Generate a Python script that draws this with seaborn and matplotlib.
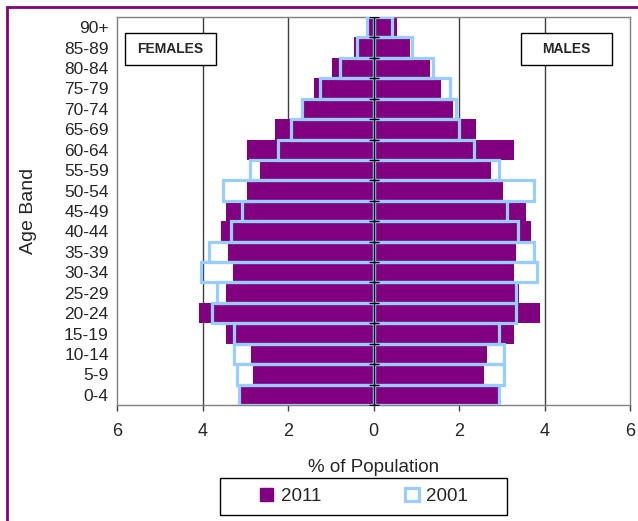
import numpy as np
import pandas as pd
import matplotlib
matplotlib.use('Agg')
import matplotlib.pyplot as plt
from matplotlib.patches import Patch, Rectangle
import seaborn as sns

# age bands, top to bottom
ages = ['90+', '85-89', '80-84', '75-79', '70-74', '65-69', '60-64', '55-59',
        '50-54', '45-49', '40-44', '35-39', '30-34', '25-29', '20-24',
        '15-19', '10-14', '5-9', '0-4']

# % of population
female_2011 = [0.12, 0.46, 0.97, 1.40, 1.70, 2.31, 2.97, 2.66, 2.97, 3.46,
               3.57, 3.41, 3.29, 3.46, 4.09, 3.46, 2.87, 2.83, 3.11]
female_2001 = [0.15, 0.38, 0.78, 1.25, 1.68, 1.93, 2.24, 2.89, 3.53, 3.08,
               3.34, 3.85, 4.04, 3.66, 3.78, 3.26, 3.26, 3.19, 3.15]
male_2011 = [0.55, 0.86, 1.33, 1.58, 1.85, 2.40, 3.29, 2.76, 3.04, 3.57,
             3.69, 3.34, 3.29, 3.40, 3.90, 3.29, 2.66, 2.59, 2.91]
male_2001 = [0.43, 0.90, 1.40, 1.79, 1.92, 2.00, 2.36, 2.94, 3.76, 3.13,
             3.38, 3.76, 3.82, 3.33, 3.33, 2.93, 3.05, 3.06, 2.94]

xticks = [-6, -4, -2, 0, 2, 4, 6]

PURPLE = '#800080'
BLUE = '#99ccff'

sns.set_style('white')
plt.rcParams['font.family'] = ['Liberation Sans', 'DejaVu Sans']

df = pd.DataFrame({
    'age': ages * 4,
    'value': [-v for v in female_2011] + male_2011 + [-v for v in female_2001] + male_2001,
    'sex': ['F'] * 19 + ['M'] * 19 + ['F'] * 19 + ['M'] * 19,
    'year': ['2011'] * 38 + ['2001'] * 38,
})

fig = plt.figure(figsize=(6.38, 5.21), dpi=100)
ax = fig.add_axes([117 / 638, 116 / 521, 513 / 638, 388 / 521])

for sex in ['F', 'M']:
    sub = df[(df['year'] == '2011') & (df['sex'] == sex)]
    sns.barplot(data=sub, x='value', y='age', order=ages, orient='h',
                color=PURPLE, saturation=1, width=1.0, errorbar=None,
                linewidth=0, ax=ax, zorder=2)
for sex in ['F', 'M']:
    sub = df[(df['year'] == '2001') & (df['sex'] == sex)]
    sns.barplot(data=sub, x='value', y='age', order=ages, orient='h',
                fill=False, color=BLUE, saturation=1, width=1.0, errorbar=None,
                linewidth=2.3, ax=ax, zorder=3)
for p in ax.patches[len(ages) * 2:]:
    p.set_edgecolor(BLUE)

ax.set_xlim(-6, 6)
ax.set_ylim(len(ages) - 0.5, -0.5)
ax.set_xticks(xticks)
ax.set_xticklabels([str(abs(t)) for t in xticks], fontsize=13)
ax.tick_params(axis='x', direction='out', length=4, width=1, color='#404040',
               pad=9, bottom=True)
ax.tick_params(axis='y', length=0, pad=6, labelsize=12.5)

# gridlines and centre axis
for t in xticks[1:-1]:
    if t != 0:
        ax.axvline(t, color='#404040', lw=1, zorder=1)
ax.axvline(0, color='black', lw=1, zorder=4)
ax.plot(np.zeros(len(ages) + 1), np.arange(len(ages) + 1) - 0.5, ls='none',
        marker='_', ms=7, mew=1, color='black', zorder=4)

for s in ax.spines.values():
    s.set_color('#808080')
    s.set_linewidth(1)

ax.set_xlabel('% of Population', fontsize=13.5)
ax.xaxis.set_label_coords(0.5, -0.14)
ax.set_ylabel('Age Band', fontsize=14)
ax.yaxis.set_label_coords(-0.155, 0.5)

# FEMALES / MALES boxes
for x0, label in [(125, 'FEMALES'), (521, 'MALES')]:
    ax.add_patch(Rectangle(((x0 - 117) / 513, (405 - 65) / 388), 91 / 513, 32 / 388,
                           transform=ax.transAxes, facecolor='white',
                           edgecolor='black', lw=1, zorder=5))
    ax.text((x0 + 45.5 - 117) / 513, (405 - 49) / 388, label, transform=ax.transAxes,
            ha='center', va='center', fontsize=10, fontweight='bold', zorder=6)

# legend
handles = [Patch(facecolor=PURPLE, edgecolor=PURPLE, label='2011'),
           Patch(facecolor='white', edgecolor=BLUE, lw=2.3, label='2001')]
fig.legend(handles=handles, loc='center', bbox_to_anchor=(364 / 638, 1 - 496.5 / 521),
           ncol=2, frameon=False, fontsize=13.5, handlelength=0.7, handleheight=0.7,
           handletextpad=0.4, columnspacing=4.5)
fig.patches.append(Rectangle((220 / 638, 1 - 515 / 521), 287 / 638, 37 / 521,
                             transform=fig.transFigure, fill=False,
                             edgecolor='black', lw=1))

# outer chart border
fig.patches.append(Rectangle((7 / 638, -0.1), 1.2, 1.1 - 7 / 521,
                             transform=fig.transFigure, fill=False,
                             edgecolor=PURPLE, lw=2))

fig.savefig('out.png', dpi=100)
